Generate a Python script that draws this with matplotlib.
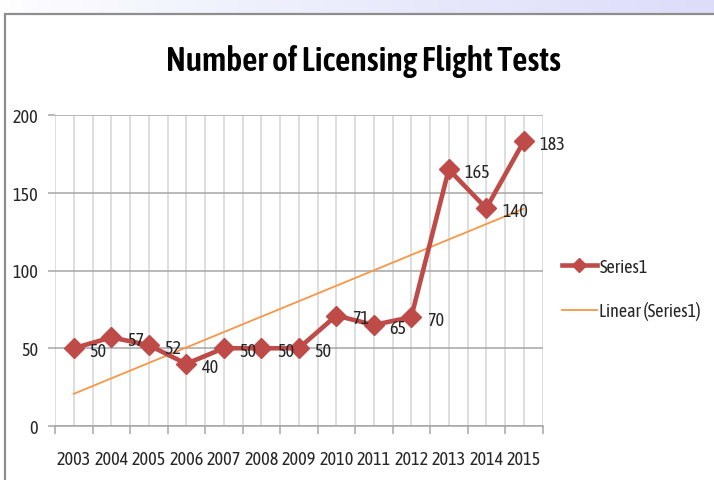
import numpy as np
import matplotlib
matplotlib.use("Agg")
import matplotlib.pyplot as plt
from matplotlib import font_manager as fm
from matplotlib.patches import Rectangle
from matplotlib.lines import Line2D

years = ["2003", "2004", "2005", "2006", "2007", "2008", "2009",
         "2010", "2011", "2012", "2013", "2014", "2015"]
values = [50, 57, 52, 40, 50, 50, 50, 71, 65, 70, 165, 140, 183]
yticks = [0, 50, 100, 150, 200]
title = "Number of Licensing Flight Tests"
series_name = "Series1"
trend_name = "Linear (Series1)"

names = {f.name for f in fm.fontManager.ttflist}
fam = "DejaVu Sans"
for cand in ["Asap Condensed", "Archivo Narrow", "Barlow Condensed", "Carlito"]:
    if cand in names:
        fam = cand
        break
plt.rcParams["font.family"] = [fam, "DejaVu Sans"]

W, H = 714, 481
fig = plt.figure(figsize=(W / 100, H / 100), dpi=100)
fig.patch.set_facecolor("white")
renderer = fig.canvas.get_renderer()


def fit_size(s, target_px, weight="normal", base=20.0):
    t = fig.text(0, 0, s, fontsize=base, fontweight=weight)
    w = t.get_window_extent(renderer).width
    t.remove()
    return base * target_px / w


fs = fit_size("2003", 34.0)
fs_title = fit_size(title, 395.0, "semibold")
px = 100 / 72.0  # pixels per point

# top gradient band
band = fig.add_axes([0, 1 - 14 / H, 1, 14 / H])
grad = np.linspace(0, 1, 256)[None, :]
c0 = np.array([1.0, 1.0, 1.0])
c1 = np.array([0xdd, 0xdd, 0xfa]) / 255.0
img = c0[None, None, :] + (c1 - c0)[None, None, :] * (grad[..., None] ** 0.8)
band.imshow(img, aspect="auto", extent=[0, 1, 0, 1])
band.set_axis_off()

# chart frame
fig.patches.append(Rectangle((4.5 / W, -0.1), 1.2, 1 - 14.5 / H + 0.1,
                             transform=fig.transFigure, fill=False,
                             edgecolor="#8e8e8e", lw=1.6, zorder=5))

ax = fig.add_axes([55 / W, 1 - 427 / H, (542.5 - 55) / W, (427 - 116) / H])
x = np.arange(len(years))
red = "#be4b48"
orange = "#f79646"
txtc = "#262626"

ax.set_xlim(-0.5, len(years) - 0.5)
ax.set_ylim(0, 200)

# gridlines
for xv in np.arange(-0.5, len(years), 0.5):
    ax.axvline(xv, color="#d4d4d4", lw=1.1, zorder=0)
ax.set_yticks(yticks)
ax.yaxis.grid(True, color="#a6a6a6", lw=1.1, zorder=1)
ax.set_axisbelow(True)

for s in ["top", "right", "left"]:
    ax.spines[s].set_visible(False)
ax.spines["bottom"].set_color("#a6a6a6")
ax.spines["bottom"].set_linewidth(1.1)

ax.set_xticks(np.arange(-0.5, len(years), 1.0))
ax.set_xticklabels([])
ax.set_xticks(x, minor=True)
ax.set_xticklabels(years, minor=True, fontsize=fs, color=txtc)
ax.tick_params(axis="x", which="major", length=6, color="#a6a6a6", width=1.1)
ax.tick_params(axis="x", which="minor", length=0, pad=17)
ax.tick_params(axis="y", length=5, color="#a6a6a6", width=1.1,
               labelsize=fs, labelcolor=txtc, pad=7)

# trend line
coef = np.polyfit(x, values, 1)
trend = np.polyval(coef, x)
ax.plot(x, trend, color=orange, lw=1.3, zorder=3)

ax.plot(x, values, color=red, lw=3.3, marker="D", markersize=10,
        markeredgecolor=red, zorder=4, clip_on=False)

for xi, v in zip(x, values):
    ax.annotate(str(v), (xi, v), xytext=(11.5, -2), textcoords="offset points",
                fontsize=fs, color=txtc, ha="left", va="center",
                zorder=6, annotation_clip=False)

fig.text(364 / W, 1 - 71 / H, title, ha="center", va="baseline",
         fontsize=fs_title, fontweight="semibold", color="black")

h1 = Line2D([], [], color=red, lw=3.3, marker="D", markersize=7)
h2 = Line2D([], [], color=orange, lw=1.3)
fig.legend([h1, h2], [series_name, trend_name], loc="center left",
           bbox_to_anchor=(558 / W, 1 - 290 / H), frameon=False,
           fontsize=fs, handlelength=35 / (fs * px), handletextpad=0.15,
           labelspacing=(44 - fs * px) / (fs * px), labelcolor=txtc,
           borderaxespad=0, borderpad=0.2)

fig.savefig("out.png", dpi=100)
